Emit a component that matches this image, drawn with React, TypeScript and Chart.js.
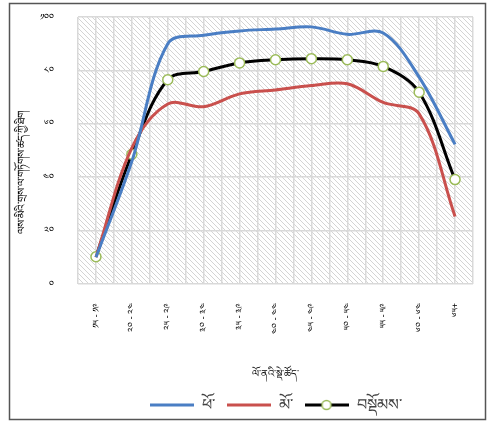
import React, { useEffect, useRef } from "react";
import { Chart, registerables } from "chart.js";

Chart.register(...registerables);

const ageGroups = ["༡༥ - ༡༩", "༢༠ - ༢༤", "༢༥ - ༢༩", "༣༠ - ༣༤", "༣༥ - ༣༩", "༤༠ - ༤༤", "༤༥ - ༤༩", "༥༠ - ༥༤", "༥༥ - ༥༩", "༦༠ - ༦༤", "༦༥+"];
const maleValues = [10, 46, 90, 93.2, 94.8, 95.5, 96.3, 93.5, 94, 77.5, 52.3];
const femaleValues = [10, 51, 67.4, 66.4, 71.2, 72.7, 74.3, 75, 68, 63.7, 25.3];
const totalValues = [10.2, 48.6, 76.5, 79.6, 82.8, 84, 84.4, 84, 81.5, 71.8, 39.1];
const yTickValues = [0, 20, 40, 60, 80, 100];
const yTickLabels = ["༠", "༢༠", "༤༠", "༦༠", "༨༠", "༡༠༠"];
const seriesNames = ["ཕོ་", "མོ་", "བསྡོམས་"];
const xTitle = "ལོ་ནའི་སྡེ་ཚོད་";
const yTitle = "ལས་མིའི་གྲས་ལ་གཏོགས་ཚད་ཀྱི་ཐིག";

const FONT = "'Noto Sans', 'DejaVu Sans', sans-serif";
const BLUE = "#4a7ec4";
const RED = "#c9504d";
const BLACK = "#000000";
const GREEN = "#9bbb59";

function makeLegendIcon(color: string, marker: boolean) {
  const c = document.createElement("canvas");
  c.width = 44;
  c.height = 12;
  const g = c.getContext("2d")!;
  g.strokeStyle = color;
  g.lineWidth = 3;
  g.beginPath();
  g.moveTo(0, 6);
  g.lineTo(44, 6);
  g.stroke();
  if (marker) {
    g.beginPath();
    g.arc(22, 6, 4.5, 0, Math.PI * 2);
    g.fillStyle = "#ffffff";
    g.fill();
    g.strokeStyle = GREEN;
    g.lineWidth = 1.5;
    g.stroke();
  }
  return c;
}

function makeHatch() {
  const s = 5;
  const c = document.createElement("canvas");
  c.width = s;
  c.height = s;
  const g = c.getContext("2d")!;
  g.fillStyle = "#ffffff";
  g.fillRect(0, 0, s, s);
  g.strokeStyle = "#d4d4d4";
  g.lineWidth = 1;
  g.beginPath();
  g.moveTo(-1, -1);
  g.lineTo(s + 1, s + 1);
  g.moveTo(-1, s - 1);
  g.lineTo(1, s + 1);
  g.moveTo(s - 1, -1);
  g.lineTo(s + 1, 1);
  g.stroke();
  return c;
}

export default function App() {
  const ref = useRef<HTMLCanvasElement | null>(null);

  useEffect(() => {
    const canvas = ref.current;
    if (!canvas) return;
    const hatch = makeHatch();
    const icons = [makeLegendIcon(BLUE, false), makeLegendIcon(RED, false), makeLegendIcon(BLACK, true)];
    const gridPositions: number[] = [];
    for (let i = -1; i <= ageGroups.length * 2 - 1; i++) gridPositions.push(i / 2);

    const decor = {
      id: "decor",
      beforeDraw(chart: any) {
        const { ctx, chartArea } = chart;
        ctx.save();
        ctx.fillStyle = "#ffffff";
        ctx.fillRect(0, 0, chart.width, chart.height);
        const pat = ctx.createPattern(hatch, "repeat");
        ctx.fillStyle = pat;
        ctx.fillRect(chartArea.left, chartArea.top, chartArea.right - chartArea.left, chartArea.bottom - chartArea.top);
        ctx.restore();
      },
      afterDraw(chart: any) {
        const { ctx, chartArea } = chart;
        ctx.save();
        ctx.translate(22, (chartArea.top + chartArea.bottom) / 2 + 22);
        ctx.rotate(-Math.PI / 2);
        ctx.font = `10.5px ${FONT}`;
        ctx.fillStyle = "#000000";
        ctx.textAlign = "center";
        ctx.textBaseline = "middle";
        ctx.fillText(yTitle, 0, 0);
        ctx.restore();
        ctx.save();
        ctx.strokeStyle = "#555555";
        ctx.lineWidth = 1.5;
        ctx.strokeRect(9.5, 3.5, 476, 416);
        ctx.restore();
      },
    };

    const chart = new Chart(canvas, {
      type: "line",
      data: {
        labels: ageGroups,
        datasets: [
          {
            label: seriesNames[0],
            data: maleValues,
            borderColor: BLUE,
            backgroundColor: BLUE,
            borderWidth: 3,
            pointRadius: 0,
            tension: 0.35,
            xAxisID: "x",
          },
          {
            label: seriesNames[1],
            data: femaleValues,
            borderColor: RED,
            backgroundColor: RED,
            borderWidth: 3,
            pointRadius: 0,
            tension: 0.35,
            xAxisID: "x",
          },
          {
            label: seriesNames[2],
            data: totalValues,
            borderColor: BLACK,
            backgroundColor: "#ffffff",
            borderWidth: 3,
            pointRadius: 5,
            pointBorderColor: GREEN,
            pointBackgroundColor: "#ffffff",
            pointBorderWidth: 1.5,
            tension: 0.35,
            xAxisID: "x",
          },
        ],
      },
      options: {
        animation: false,
        responsive: false,
        maintainAspectRatio: false,
        layout: { padding: { left: 0, top: 17, right: 18, bottom: 2 } },
        plugins: {
          tooltip: { enabled: false },
          legend: {
            position: "bottom",
            fullSize: false,
            labels: {
              usePointStyle: true,
              pointStyleWidth: 44,
              padding: 12,
              color: "#404040",
              font: { family: FONT, size: 16 },
              generateLabels: (ch: any) =>
                ch.data.datasets.map((ds: any, i: number) => ({
                  text: ds.label,
                  pointStyle: icons[i],
                  fillStyle: "transparent",
                  strokeStyle: "transparent",
                  lineWidth: 0,
                  hidden: false,
                  datasetIndex: i,
                  fontColor: "#404040",
                })),
            },
          },
        },
        scales: {
          x: {
            type: "category",
            offset: true,
            position: "bottom",
            grid: { display: false },
            border: { display: false },
            ticks: {
              minRotation: 90,
              maxRotation: 90,
              autoSkip: false,
              padding: 11,
              color: "#000000",
              font: { family: FONT, size: 9 },
            },
            title: {
              display: true,
              text: xTitle,
              color: "#000000",
              font: { family: FONT, size: 10 },
              padding: { top: 0, bottom: 5 },
            },
            afterFit: (s: any) => {
              s.height = 101;
            },
          },
          xg: {
            type: "linear",
            position: "bottom",
            min: -0.5,
            max: ageGroups.length - 0.5,
            afterBuildTicks: (s: any) => {
              s.ticks = gridPositions.map((v) => ({ value: v }));
            },
            ticks: { display: false },
            grid: { color: "#d9d9d9", lineWidth: 1.5, drawTicks: false },
            border: { display: false },
            afterFit: (s: any) => {
              s.height = 0;
            },
          },
          y: {
            min: 0,
            max: 100,
            afterBuildTicks: (s: any) => {
              s.ticks = yTickValues.map((v) => ({ value: v }));
            },
            ticks: {
              padding: 24,
              color: "#000000",
              font: { family: FONT, size: 9 },
              callback: (v: any) => yTickLabels[yTickValues.indexOf(Number(v))],
            },
            grid: { color: "#d9d9d9", lineWidth: 1.5, drawTicks: false },
            border: { display: false },
            afterFit: (s: any) => {
              s.width = 78;
              s.paddingTop = 5;
              s.paddingBottom = 5;
            },
          },
        },
      },
      plugins: [decor],
    } as any);

    return () => chart.destroy();
  }, []);

  return (
    <div style={{ position: "absolute", left: 0, top: 0, width: 491, height: 425 }}>
      <canvas ref={ref} width={491} height={425} style={{ display: "block", width: 491, height: 425 }} />
    </div>
  );
}
